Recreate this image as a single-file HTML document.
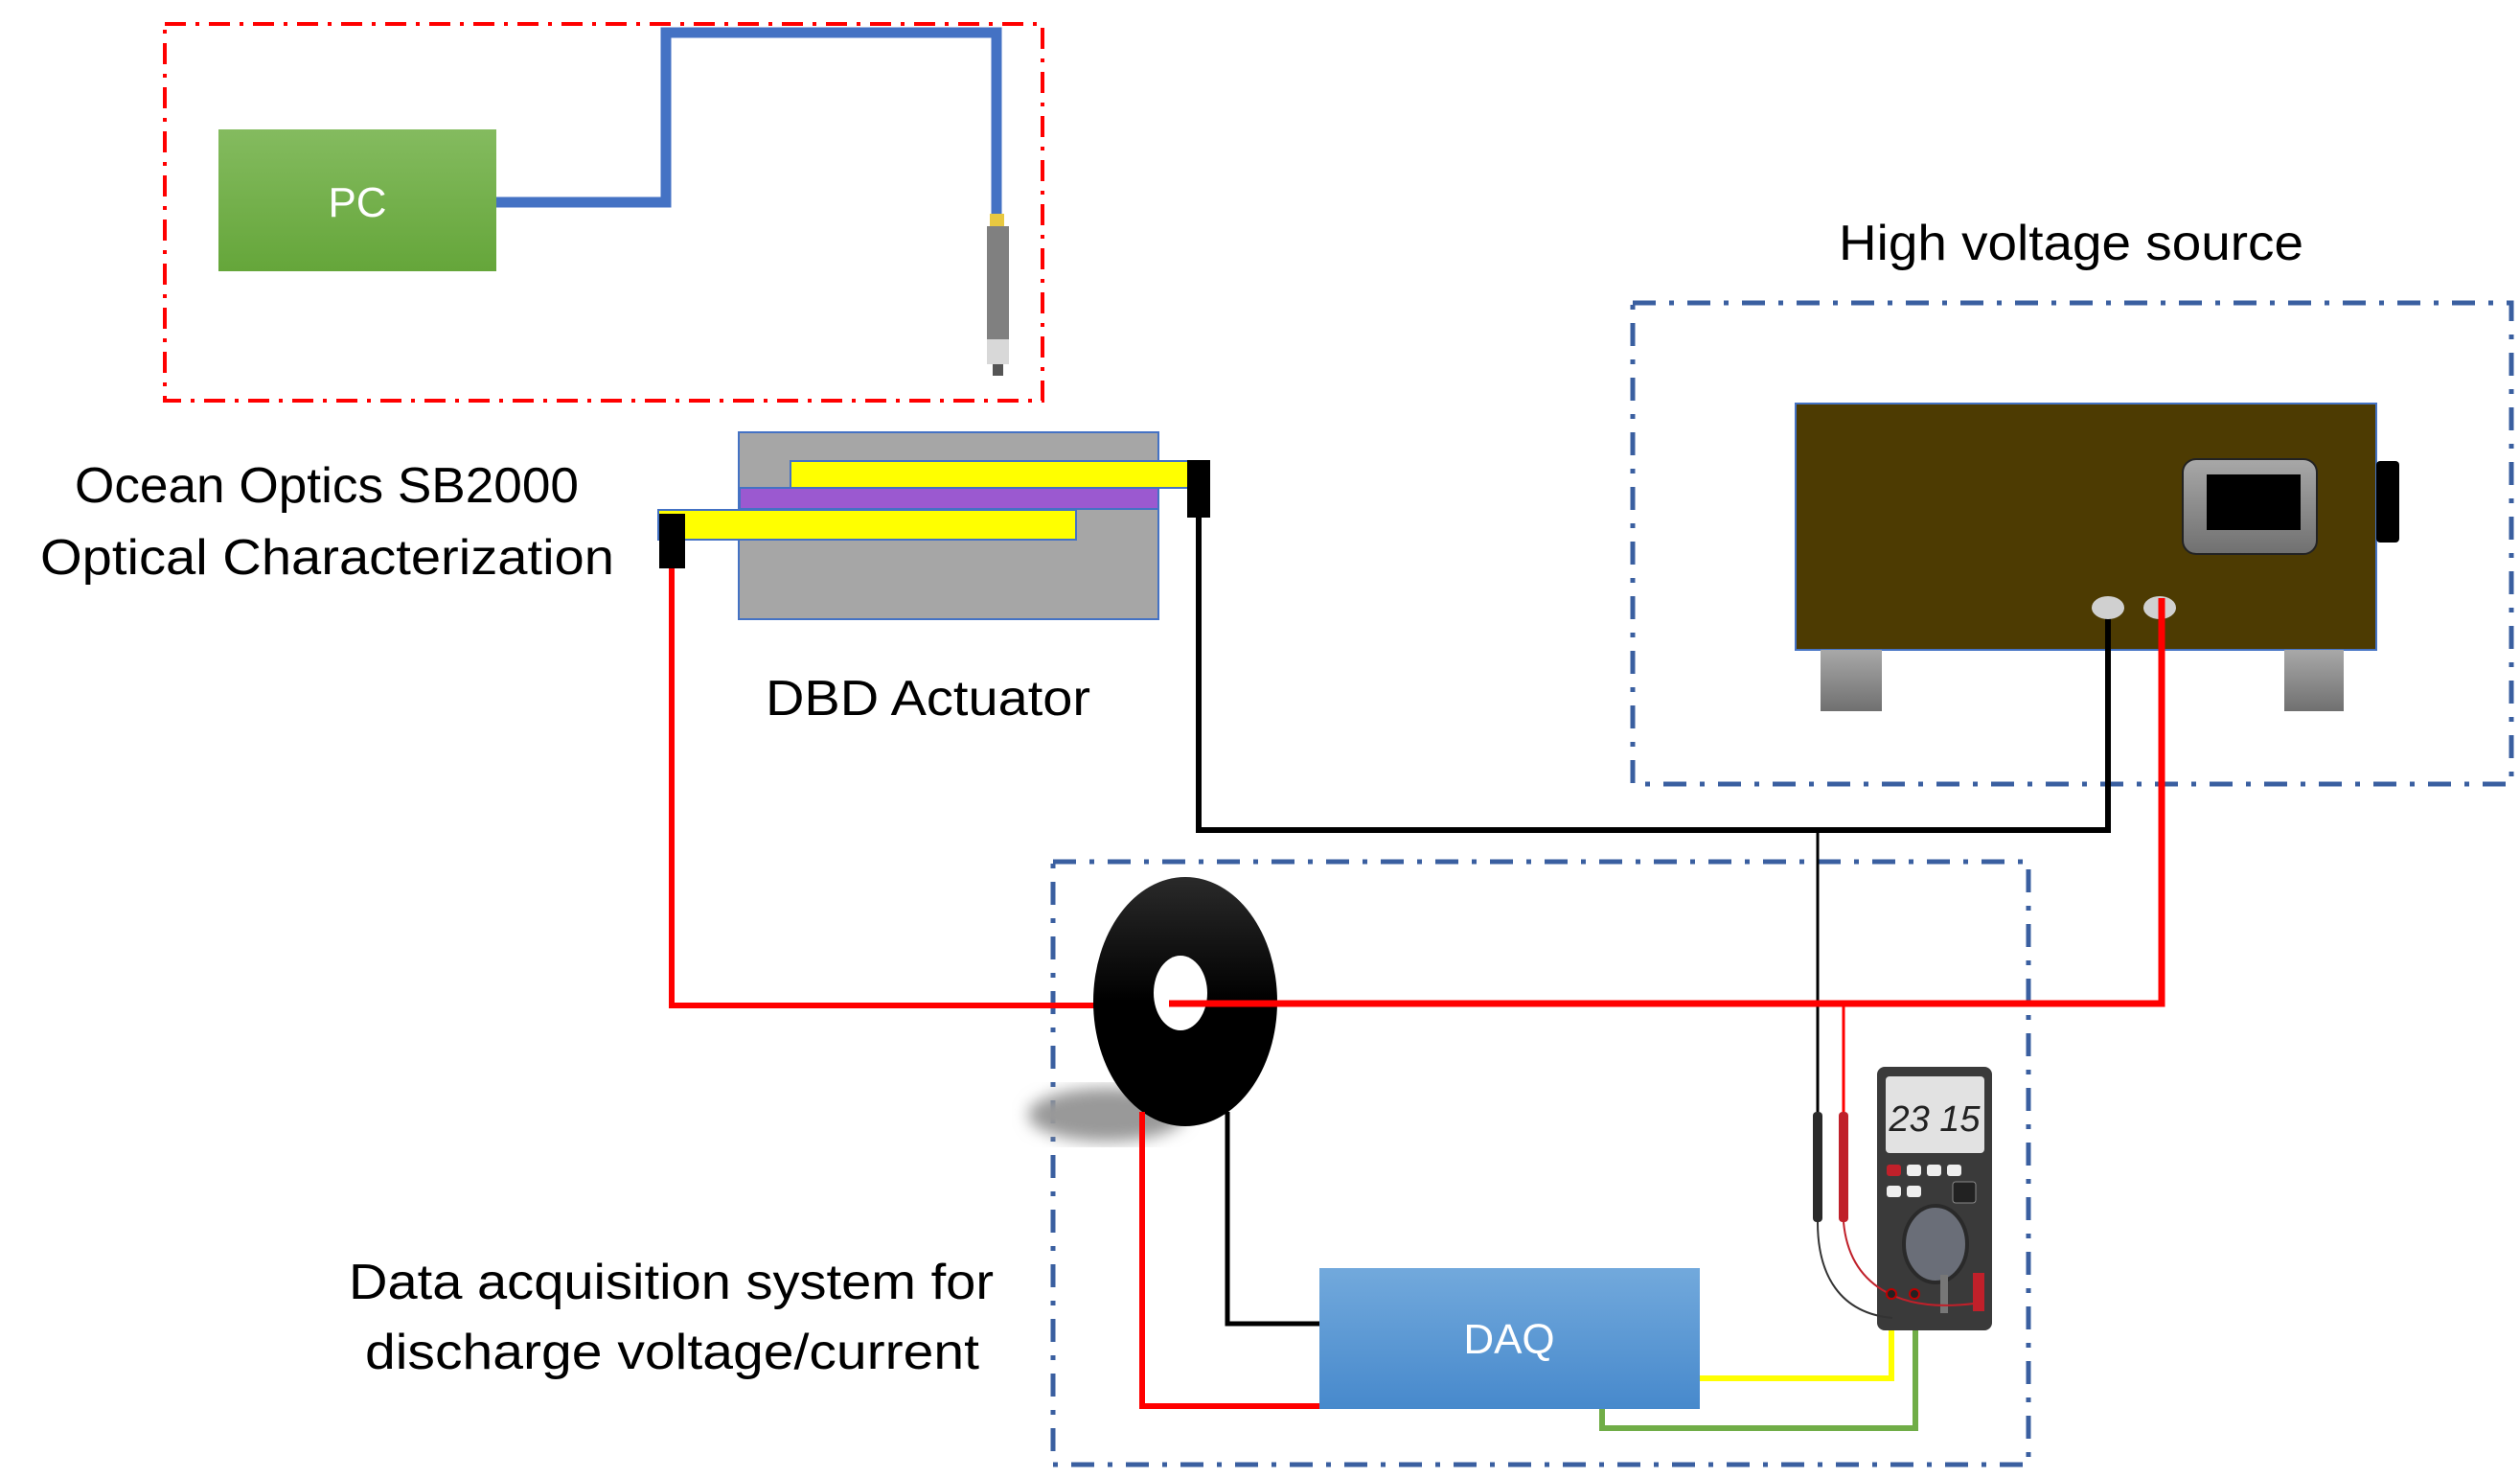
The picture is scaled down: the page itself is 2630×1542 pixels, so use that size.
<!DOCTYPE html>
<html><head><meta charset="utf-8"><style>
html,body{margin:0;padding:0;background:#fff;}
svg{display:block;}
text{font-family:"Liberation Sans",sans-serif;}
</style></head><body>
<svg width="2630" height="1542" viewBox="0 0 2630 1542" xmlns="http://www.w3.org/2000/svg">
<defs>
<linearGradient id="gPC" x1="0" y1="0" x2="0" y2="1"><stop offset="0" stop-color="#84bb5f"/><stop offset="1" stop-color="#65a63a"/></linearGradient>
<linearGradient id="gDAQ" x1="0" y1="0" x2="0" y2="1"><stop offset="0" stop-color="#72a9dc"/><stop offset="1" stop-color="#4789cc"/></linearGradient>
<linearGradient id="gGray" x1="0" y1="0" x2="0" y2="1"><stop offset="0" stop-color="#a8a8a8"/><stop offset="1" stop-color="#707070"/></linearGradient>
<linearGradient id="gRing" x1="0" y1="0" x2="0" y2="1"><stop offset="0" stop-color="#2a2a2a"/><stop offset="0.5" stop-color="#000"/></linearGradient>
<filter id="blur"><feGaussianBlur stdDeviation="8"/></filter>
</defs>

<rect x="172" y="25" width="916" height="393" fill="none" stroke="#ff0000" stroke-width="4" stroke-dasharray="22 10 4 10"/>
<rect x="228" y="135" width="290" height="148" fill="url(#gPC)"/>
<text x="373" y="226" font-size="44" fill="#fff" text-anchor="middle">PC</text>
<polyline points="518,211 695,211 695,34 1040,34 1040,225" fill="none" stroke="#4472c4" stroke-width="11"/>
<rect x="1033" y="223" width="15" height="14" fill="#e8c840"/>
<rect x="1030" y="236" width="23" height="120" fill="#808080"/>
<rect x="1030" y="354" width="23" height="26" fill="#d8d8d8"/>
<rect x="1036" y="380" width="11" height="12" fill="#555"/>

<text x="78" y="524" font-size="52" textLength="526" lengthAdjust="spacingAndGlyphs">Ocean Optics SB2000</text>
<text x="42" y="599" font-size="52" textLength="599" lengthAdjust="spacingAndGlyphs">Optical Characterization</text>
<text x="799" y="746" font-size="52" textLength="339" lengthAdjust="spacingAndGlyphs">DBD Actuator</text>
<text x="1919" y="271" font-size="52" textLength="485" lengthAdjust="spacingAndGlyphs">High voltage source</text>
<text x="364" y="1355" font-size="52" textLength="673" lengthAdjust="spacingAndGlyphs">Data acquisition system for</text>
<text x="381" y="1428" font-size="52" textLength="641" lengthAdjust="spacingAndGlyphs">discharge voltage/current</text>

<rect x="771" y="451" width="438" height="195" fill="#a6a6a6" stroke="#4472c4" stroke-width="2"/>
<rect x="825" y="481" width="418" height="28" fill="#ffff00" stroke="#4472c4" stroke-width="2"/>
<rect x="772" y="509" width="437" height="22" fill="#9b59d0" stroke="#4472c4" stroke-width="2"/>
<rect x="687" y="532" width="436" height="31" fill="#ffff00" stroke="#4472c4" stroke-width="2"/>
<rect x="688" y="536" width="27" height="57" fill="#000"/>
<rect x="1239" y="480" width="24" height="60" fill="#000"/>

<rect x="1704" y="316" width="917" height="502" fill="none" stroke="#3a5fa0" stroke-width="5" stroke-dasharray="24 14 5 14"/>
<rect x="1099" y="899" width="1018" height="629" fill="none" stroke="#3a5fa0" stroke-width="5" stroke-dasharray="24 14 5 14"/>

<rect x="1874" y="421" width="606" height="257" fill="#4d3b02" stroke="#4472c4" stroke-width="2"/>
<rect x="1900" y="678" width="64" height="64" fill="url(#gGray)"/>
<rect x="2384" y="678" width="62" height="64" fill="url(#gGray)"/>
<rect x="2278" y="479" width="140" height="99" rx="14" fill="url(#gGray)" stroke="#222" stroke-width="2"/>
<rect x="2303" y="495" width="98" height="58" fill="#000"/>
<rect x="2480" y="481" width="24" height="85" rx="4" fill="#000"/>

<polyline points="1251,540 1251,866 2200,866 2200,636" fill="none" stroke="#000" stroke-width="6"/>
<line x1="1897" y1="866" x2="1897" y2="1165" stroke="#000" stroke-width="3"/>
<ellipse cx="2200" cy="634" rx="17" ry="12" fill="#d0d0d0"/>
<polyline points="701,593 701,1049 1237,1049" fill="none" stroke="#ff0000" stroke-width="6"/>
<line x1="1924" y1="1049" x2="1924" y2="1160" stroke="#ff0000" stroke-width="3"/>

<ellipse cx="1155" cy="1163" rx="82" ry="28" fill="#999" filter="url(#blur)"/>
<ellipse cx="1237" cy="1045" rx="96" ry="130" fill="url(#gRing)"/>
<ellipse cx="1232" cy="1036" rx="28" ry="39" fill="#fff"/>
<ellipse cx="2254" cy="634" rx="17" ry="12" fill="#d0d0d0"/>
<polyline points="1220,1047 2256,1047 2256,624" fill="none" stroke="#ff0000" stroke-width="7"/>

<polyline points="1192,1160 1192,1467 1380,1467" fill="none" stroke="#ff0000" stroke-width="6"/>
<polyline points="1281,1160 1281,1381 1380,1381" fill="none" stroke="#000" stroke-width="5"/>

<rect x="1377" y="1323" width="397" height="147" fill="url(#gDAQ)"/>
<text x="1575" y="1412" font-size="44" fill="#fff" text-anchor="middle">DAQ</text>
<polyline points="1774,1438 1974,1438 1974,1350" fill="none" stroke="#ffff00" stroke-width="6"/>
<polyline points="1672,1470 1672,1490 1999,1490 1999,1350" fill="none" stroke="#70ad47" stroke-width="6"/>

<rect x="1959" y="1113" width="120" height="275" rx="8" fill="#3a3a3a"/>
<rect x="1968" y="1123" width="103" height="80" rx="4" fill="#e2e2e2"/>
<text x="2019" y="1180" font-size="38" fill="#222" text-anchor="middle" font-style="italic">23 15</text>
<rect x="1969" y="1215" width="15" height="12" rx="3" fill="#c0202a"/>
<rect x="1990" y="1215" width="15" height="12" rx="3" fill="#eee"/>
<rect x="2011" y="1215" width="15" height="12" rx="3" fill="#eee"/>
<rect x="2032" y="1215" width="15" height="12" rx="3" fill="#eee"/>
<rect x="1969" y="1237" width="15" height="12" rx="3" fill="#eee"/>
<rect x="1990" y="1237" width="15" height="12" rx="3" fill="#eee"/>
<rect x="2038" y="1233" width="24" height="22" rx="3" fill="#222" stroke="#888"/>
<ellipse cx="2020" cy="1298" rx="33" ry="40" fill="#6a6e78" stroke="#2a2a2a" stroke-width="4"/>
<rect x="2025" y="1330" width="8" height="40" fill="#777"/>
<rect x="2059" y="1328" width="12" height="40" fill="#c0202a"/>
<rect x="1892" y="1160" width="10" height="115" rx="4" fill="#2a2a2a"/>
<rect x="1919" y="1160" width="10" height="115" rx="4" fill="#c0202a"/>
<path d="M1897,1275 C1897,1330 1920,1370 1975,1375" fill="none" stroke="#333" stroke-width="2"/>
<path d="M1924,1275 C1930,1340 1980,1370 2060,1360" fill="none" stroke="#c0202a" stroke-width="2"/>
<circle cx="1974" cy="1350" r="5" fill="#222" stroke="#b00" stroke-width="2"/>
<circle cx="1998" cy="1350" r="5" fill="#222" stroke="#b00" stroke-width="2"/>
</svg>
</body></html>
